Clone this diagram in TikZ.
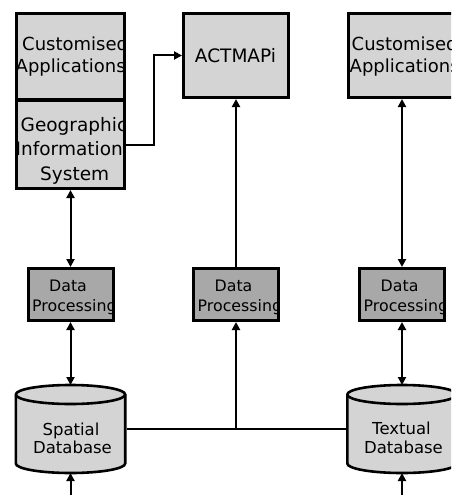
\documentclass[tikz,border=0pt]{standalone}
\usepackage{fontspec}
\setmainfont{DejaVu Sans}
\usetikzlibrary{arrows.meta}
\definecolor{boxgray}{RGB}{212,212,212}
\definecolor{dpgray}{RGB}{168,168,168}
\begin{document}
\begin{tikzpicture}[x=1pt,y=-1pt,
  box/.style={draw, line width=3pt, fill=boxgray, inner sep=0pt},
  dpbox/.style={draw, line width=3pt, fill=dpgray, inner sep=0pt, minimum width=85pt, minimum height=52pt},
  dbnode/.style={inner sep=0pt, outer sep=0pt, minimum width=112pt, minimum height=88pt},
  cyl/.style={draw, line width=2.6pt, fill=boxgray},
  big/.style={font=\fontsize{18.5}{22}\selectfont, inner sep=0pt},
  cabig/.style={font=\fontsize{18}{22}\selectfont, inner sep=0pt},
  mid/.style={font=\fontsize{16.5}{20}\selectfont, inner sep=0pt},
  small/.style={font=\fontsize{15.8}{19}\selectfont, inner sep=0pt},
  conn/.style={line width=2pt},
  arr/.style={conn, -{Triangle[length=8pt,width=8pt]}},
  darr/.style={conn, {Triangle[length=8pt,width=8pt]}-{Triangle[length=8pt,width=8pt]}},
]
\useasboundingbox (0,0) rectangle (451,495);
\clip (0,0) rectangle (451,495);
\fill[white] (0,0) rectangle (451,495);

% ---------- boxes ----------
\node[box, minimum width=108pt, minimum height=86pt] (ca1) at (70.5,56.5) {};
\node[box, minimum width=108pt, minimum height=88pt] (gis) at (70.5,144.5) {};
\node[box, minimum width=105pt, minimum height=84pt] (act) at (236,55.5) {};
\node[box, minimum width=108pt, minimum height=84pt] (ca2) at (402.5,55.5) {};
\node[dpbox] (dp1) at (70.5,294.5) {};
\node[dpbox] (dp2) at (236,294.5) {};
\node[dpbox] (dp3) at (402,294.5) {};
\node[dbnode] (db1) at (70.5,429) {};
\node[dbnode] (db2) at (402,429) {};

% ---------- cylinders ----------
\foreach \cx in {70.5,402}{
  \path[cyl] (\cx-54.7,394.5) -- (\cx-54.7,463.5)
    arc[start angle=180,end angle=360,x radius=54.7pt,y radius=9.5pt]
    -- (\cx+54.7,394.5)
    arc[start angle=0,end angle=180,x radius=54.7pt,y radius=9.5pt] -- cycle;
  \draw[line width=2.6pt] (\cx-54.7,394.5)
    arc[start angle=180,end angle=360,x radius=54.7pt,y radius=9.5pt];
}

% ---------- texts (clipped to box interiors) ----------
\begin{scope}
  \clip ([shift={(3,3)}]ca1.north west) rectangle ([shift={(-3,-3)}]ca1.south east);
  \node[cabig, anchor=base west] (t1a) at (22,51) {Customised};
  \node[cabig, anchor=base west] (t1b) at (15.5,72) {Applications};
\end{scope}
\begin{scope}
  \clip ([shift={(3,3)}]gis.north west) rectangle ([shift={(-3,-3)}]gis.south east);
  \node[big, anchor=base west] (t2a) at (20.5,131) {Geographic};
  \node[big, anchor=base west] (t2b) at (15.5,155) {Information};
  \node[big, anchor=base west] (t2c) at (40,180) {System};
\end{scope}
\node[big, anchor=base] (t3) at (235.5,63) {ACTMAPi};
\begin{scope}
  \clip ([shift={(3,3)}]ca2.north west) rectangle ([shift={(-3,-3)}]ca2.south east);
  \node[cabig, anchor=base west] (t4a) at (351.5,51) {Customised};
  \node[cabig, anchor=base west] (t4b) at (349.5,72) {Applications};
\end{scope}
\foreach \b/\n in {dp1/a,dp2/b,dp3/c}{
  \begin{scope}
    \clip ([shift={(3,3)}]\b.north west) rectangle ([shift={(-3,-3)}]\b.south east);
    \node[small, anchor=base west] (dptext\n1) at ([shift={(22.5,-3)}]\b.west) {Data};
    \node[small, anchor=base west] (dptext\n2) at ([shift={(5.5,17)}]\b.west) {Processing};
  \end{scope}
}
\node[mid, anchor=base] (s1) at (71,435) {Spatial};
\node[mid, anchor=base] (s2) at (72.5,453) {Database};
\node[mid, anchor=base] (x1) at (401.5,434) {Textual};
\node[mid, anchor=base] (x2) at (403.5,453) {Database};

% ---------- connectors ----------
\draw[arr] (gis.east) -- ++(28,0) |- (act.west);
\draw[darr] (gis.south) -- (dp1.north);
\draw[darr] (dp1.south) -- (db1.north);
\coordinate (b1) at (70.5,500);
\draw[arr] (b1) -- (db1.south);

\draw[arr] (dp2.north) -- (act.south -| dp2.north);
\draw[conn] (db1.east) -- (db2.west);
\coordinate (j2) at (db1.east -| dp2.south);
\draw[arr] (j2) -- (dp2.south);

\draw[darr] (ca2.south -| dp3.north) -- (dp3.north);
\draw[darr] (dp3.south) -- (db2.north);
\coordinate (b2) at (402,500);
\draw[arr] (b2) -- (db2.south);
\end{tikzpicture}
\end{document}
